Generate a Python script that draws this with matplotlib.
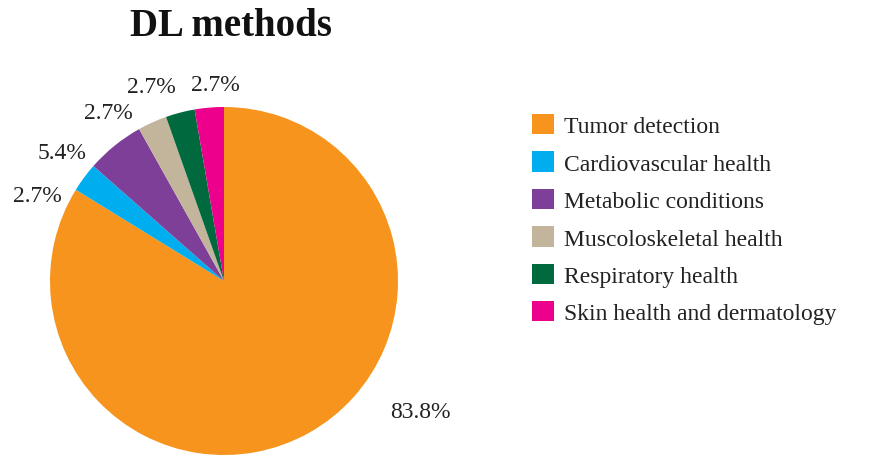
import numpy as np
import matplotlib.pyplot as plt

# study counts per application area
categories = ["Tumor detection", "Cardiovascular health", "Metabolic conditions",
              "Muscoloskeletal health", "Respiratory health", "Skin health and dermatology"]
counts = [31, 1, 2, 1, 1, 1]
colors = ["#F7941D", "#00AEEF", "#7E3F98", "#C2B59B", "#00693E", "#EC008C"]

# where each percentage label sits (x, y in pie radius units)
label_xy = [(1.13, -0.75), (-1.075, 0.49), (-0.93, 0.74),
            (-0.665, 0.97), (-0.42, 1.115), (-0.05, 1.13)]

plt.rcParams['font.family'] = ['Liberation Serif', 'DejaVu Serif']

fig = plt.figure(figsize=(8.75, 4.56), dpi=100)
ax = fig.add_axes([50 / 875, 0.0, 348 / 875, 348 / 456])

wedges, texts, autotexts = ax.pie(counts, colors=colors, startangle=90, counterclock=False,
                                  autopct="%.1f%%", radius=1.0,
                                  wedgeprops=dict(linewidth=0),
                                  textprops=dict(fontsize=17, color="#222222"))
for t, (x, y) in zip(autotexts, label_xy):
    t.set_position((x, y))
    t.set_ha("center")
    t.set_va("center")

ax.set_xlim(-1, 1)
ax.set_ylim(-1, 1)
ax.set_aspect("equal")
ax.axis("off")

fig.text(231 / 875, 1 - 26 / 456, "DL methods", ha="center", va="center",
         fontsize=28, fontweight="bold", color="#111111")

fig.legend(wedges, categories, loc="upper left", bbox_to_anchor=(520 / 875, 1 - 103 / 456),
           frameon=False, fontsize=17, handlelength=0.95, handleheight=0.95,
           handletextpad=0.42, labelspacing=0.6, borderpad=0, labelcolor="#222222")

fig.savefig("out.png", dpi=100)
